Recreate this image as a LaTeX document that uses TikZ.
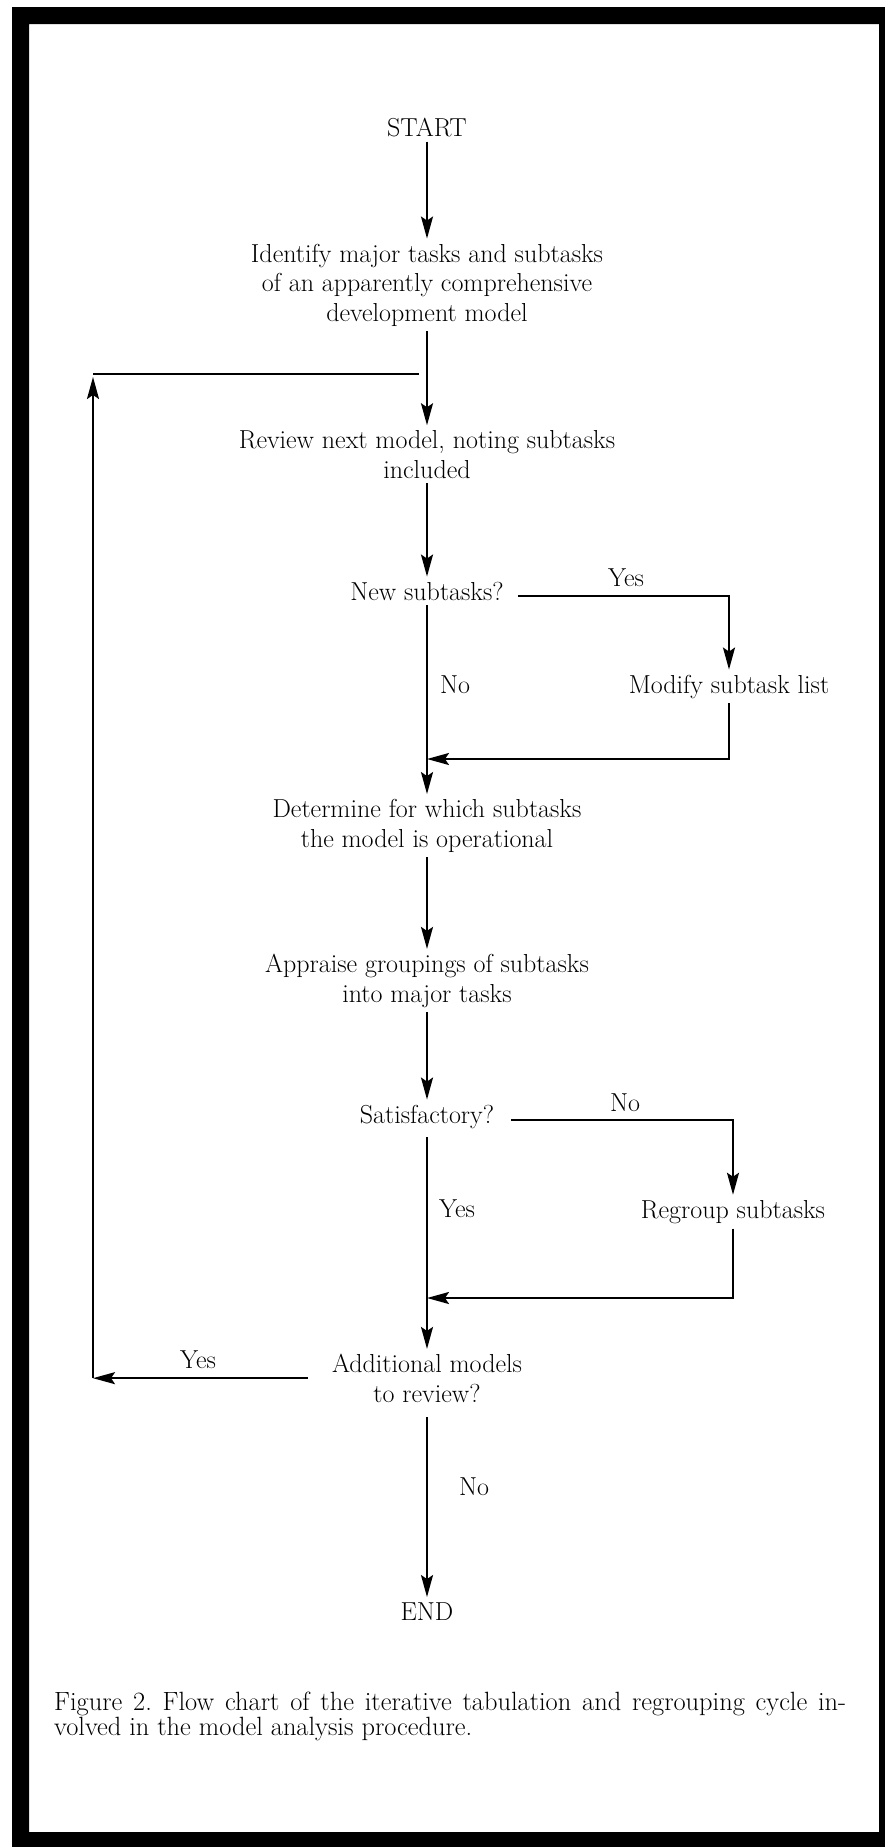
\documentclass[tikz,border=0pt]{standalone}
\usepackage{fontspec}
\usetikzlibrary{arrows.meta,calc}
\begin{document}
\begin{tikzpicture}[x=1pt,y=-1pt,
  txt/.style={font=\fontsize{26}{29.5}\selectfont, align=center, inner sep=5pt, anchor=base},
  lbl/.style={font=\fontsize{26}{29.5}\selectfont, inner sep=0pt, anchor=base},
  conn/.style={draw, line width=2pt},
  arr/.style={conn, -{Stealth[length=22pt,width=12pt,inset=4pt]}}]
\useasboundingbox (0,0) rectangle (885,1847);
\fill[white] (0,0) rectangle (885,1847);
% frame
\fill[black, even odd rule] (12,7) rectangle (895,1860) (29,24) rectangle (879,1832);

% main nodes (base anchor = baseline of last line)
\node[txt] (start) at (427,136) {START};
\node[txt] (ident) at (427,321) {Identify major tasks and subtasks\\of an apparently comprehensive\\development model};
\node[txt] (review) at (427,478) {Review next model, noting subtasks\\included};
\node[txt] (newsub) at (427,600) {New subtasks?};
\node[txt] (modify) at (729,693) {Modify subtask list};
\node[txt] (determ) at (427,847) {Determine for which subtasks\\the model is operational};
\node[txt] (apprai) at (427,1002) {Appraise groupings of subtasks\\into major tasks};
\node[txt] (satis) at (427,1123) {Satisfactory?};
\node[txt] (regroup) at (733,1218) {Regroup subtasks};
\node[txt] (addit) at (427,1402) {Additional models\\to review?};
\node[txt] (endn) at (427,1620) {END};

% labels
\node[lbl] (yes1) at (626,586) {Yes};
\node[lbl] (no1) at (455,693) {No};
\node[lbl] (no2) at (625,1111) {No};
\node[lbl] (yes2) at (457,1217) {Yes};
\node[lbl] (yes3) at (198,1368) {Yes};
\node[lbl] (no3) at (474,1495) {No};

% caption
\node[inner sep=0pt, anchor=base west, text width=792pt, align=justify,
      font=\fontsize{26.4}{25}\selectfont] (cap) at (54,1710)
  {\frenchspacing Figure 2. Flow chart of the iterative tabulation and regrouping cycle in-\linebreak volved in the model analysis procedure.};

% main flow
\draw[arr] (start.south) -- (ident.north);
\draw[arr] (ident.south) -- (review.north);
\draw[arr] (review.south) -- (newsub.north);
\draw[arr] (newsub.south) -- (determ.north);
\draw[arr] (determ.south) -- (apprai.north);
\draw[arr] (apprai.south) -- (satis.north);
\draw[arr, shorten <=4pt] (satis.south) -- (addit.north);
\draw[arr, shorten <=10pt] (addit.south) -- (endn.north);

% yes branch of new subtasks
\draw[arr] ([shift={(9pt,-5pt)}]newsub.east) coordinate (ya) -- (ya -| modify.north) -- (modify.north);
\coordinate (j1) at (427,759);
\draw[arr] (modify.south) |- (j1);

% no branch of satisfactory
\draw[arr] ([shift={(12pt,-3.5pt)}]satis.east) coordinate (sa) -- (sa -| regroup.north) -- (regroup.north);
\coordinate (j2) at (427,1298);
\draw[arr] (regroup.south) |- (j2);

% loop back
\coordinate (loopL) at (93,374);
\coordinate (loopR) at (419,374);
\draw[conn] (loopL) -- (loopR);
\draw[arr] ([xshift=-19pt]addit.west) coordinate (aw) -- (aw -| loopL);
\draw[arr] (aw -| loopL) -- ([yshift=-3pt]loopL);
\end{tikzpicture}
\end{document}
